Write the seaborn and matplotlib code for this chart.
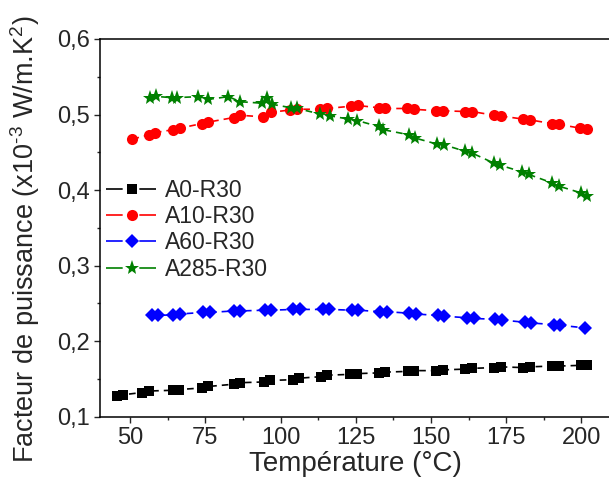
import matplotlib
matplotlib.use("Agg")
import matplotlib.pyplot as plt
import matplotlib.ticker as mticker
import seaborn as sns
import pandas as pd

# Données (T en °C, facteur de puissance en 1e-3 W/m.K^2)
t_a0 = [45.8, 47.6, 53.9, 56.4, 64.2, 66.4, 73.8, 76.0, 84.4, 86.6, 94.4, 96.6,
        104.1, 106.3, 113.4, 115.6, 123.2, 125.4, 132.6, 134.8, 142.3, 144.5,
        151.8, 154.0, 161.4, 163.6, 171.1, 173.3, 180.6, 182.8, 190.2, 192.4,
        199.8, 201.8]
pf_a0 = [0.128, 0.129, 0.132, 0.134, 0.135, 0.136, 0.138, 0.140, 0.143, 0.145,
         0.146, 0.148, 0.149, 0.151, 0.153, 0.155, 0.156, 0.157, 0.158, 0.159,
         0.160, 0.161, 0.161, 0.162, 0.163, 0.164, 0.165, 0.166, 0.165, 0.166,
         0.167, 0.167, 0.168, 0.168]

t_a10 = [50.8, 56.2, 58.2, 64.4, 66.6, 73.8, 76.0, 84.4, 86.6, 94.2, 96.8,
         103.2, 105.4, 113.2, 115.4, 123.4, 125.6, 132.6, 134.8, 142.0, 144.2,
         151.8, 154.0, 161.4, 163.6, 171.1, 173.3, 180.6, 182.8, 190.2, 192.4,
         199.6, 201.8]
pf_a10 = [0.4675, 0.473, 0.476, 0.480, 0.482, 0.488, 0.490, 0.496, 0.499,
          0.497, 0.503, 0.506, 0.507, 0.507, 0.508, 0.511, 0.512, 0.509, 0.508,
          0.508, 0.507, 0.505, 0.505, 0.504, 0.504, 0.499, 0.498, 0.494, 0.493,
          0.488, 0.487, 0.482, 0.481]

t_a60 = [57.2, 59.4, 64.4, 66.6, 74.2, 76.4, 84.4, 86.6, 94.7, 96.9, 104.3,
         106.5, 114.0, 116.2, 123.7, 125.9, 133.1, 135.3, 142.8, 145.0, 152.2,
         154.4, 162.0, 164.2, 171.4, 173.6, 181.2, 183.4, 190.8, 193.0, 201.3]
pf_a60 = [0.234, 0.234, 0.235, 0.236, 0.238, 0.238, 0.240, 0.240, 0.241, 0.241,
          0.242, 0.242, 0.242, 0.242, 0.241, 0.241, 0.239, 0.239, 0.237, 0.236,
          0.234, 0.233, 0.231, 0.230, 0.229, 0.228, 0.225, 0.224, 0.222, 0.221,
          0.2175]

t_a285 = [56.5, 58.5, 63.8, 65.6, 72.7, 76.0, 82.7, 86.6, 93.8, 95.5, 97.1,
          103.5, 105.5, 113.0, 116.5, 122.5, 125.5, 132.6, 134.2, 142.6, 144.8,
          152.0, 154.2, 161.4, 163.6, 170.8, 173.0, 180.3, 182.5, 190.2, 192.4,
          199.7, 201.9]
pf_a285 = [0.522, 0.524, 0.5224, 0.5224, 0.5237, 0.5201, 0.5237, 0.517, 0.515,
           0.5215, 0.5136, 0.509, 0.508, 0.5009, 0.4983, 0.494, 0.492, 0.4842,
           0.4799, 0.4733, 0.4688, 0.4609, 0.4601, 0.4513, 0.4491, 0.4359,
           0.4329, 0.4241, 0.4207, 0.4096, 0.4053, 0.3965, 0.3921]

series = [
    ("A0-R30", t_a0, pf_a0, "black", "s", 6.5),
    ("A10-R30", t_a10, pf_a10, "#ff0000", "o", 8),
    ("A60-R30", t_a60, pf_a60, "#0000ff", "D", 7),
    ("A285-R30", t_a285, pf_a285, "#008000", "*", 11),
]

sns.set_style("ticks")
plt.rcParams['font.family'] = ['Liberation Sans', 'DejaVu Sans']
plt.rcParams['mathtext.fontset'] = 'custom'
plt.rcParams['mathtext.rm'] = 'Liberation Sans'
plt.rcParams['mathtext.it'] = 'Liberation Sans:italic'

fig = plt.figure(figsize=(6.09, 4.78), dpi=100)
ax = fig.add_axes([100/609, 61.3/478, 511.5/609, 377.7/478])

for nom, t, pf, couleur, marq, taille in series:
    df = pd.DataFrame({"T": t, "PF": pf})
    sns.lineplot(data=df, x="T", y="PF", ax=ax, color=couleur, marker=marq,
                 markersize=taille, markeredgewidth=0, linewidth=1.2,
                 linestyle=(0, (4, 3)), label=nom, estimator=None)

ax.set_xlim(40, 210)
ax.set_ylim(0.1, 0.6)
ax.xaxis.set_major_locator(mticker.MultipleLocator(25))
ax.xaxis.set_minor_locator(mticker.MultipleLocator(12.5))
ax.yaxis.set_major_locator(mticker.MultipleLocator(0.1))
ax.yaxis.set_minor_locator(mticker.MultipleLocator(0.05))
ax.yaxis.set_major_formatter(mticker.FuncFormatter(lambda v, p: f"{v:.1f}".replace(".", ",")))

ax.tick_params(which="major", direction="out", length=4.5, width=1, labelsize=17, pad=3)
ax.tick_params(which="minor", direction="out", length=2.5, width=1)
for s in ["left", "bottom", "top"]:
    ax.spines[s].set_linewidth(1.1)
    ax.spines[s].set_color("black")

ax.set_xlabel("Température (°C)", fontsize=20, labelpad=1)
ax.set_ylabel(r"Facteur de puissance (x10$^{\text{-3}}$ W/m.K$^2$)", fontsize=19.5)
ax.yaxis.set_label_coords(-0.113, 0.47)

leg = ax.legend(loc="upper left", bbox_to_anchor=(-0.02, 0.673), frameon=False, fontsize=16.5,
                handlelength=2.3, handletextpad=0.3, labelspacing=0.15, borderaxespad=0.3)
for h in leg.legend_handles:
    h.set_linestyle((0, (10, 10)))

fig.savefig("out.png", dpi=100)
